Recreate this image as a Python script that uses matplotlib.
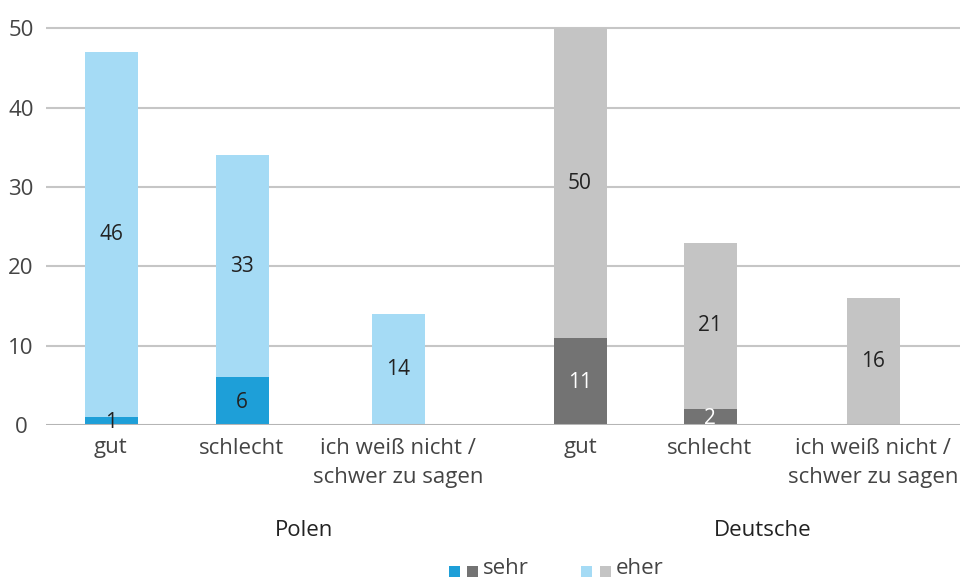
import matplotlib
matplotlib.use('Agg')
import matplotlib.pyplot as plt
from matplotlib.patches import Rectangle

# ---- data ----
categories = ['gut', 'schlecht', 'ich weiß nicht /\nschwer zu sagen',
              'gut', 'schlecht', 'ich weiß nicht /\nschwer zu sagen']
groups = ['Polen', 'Deutsche']
sehr = [1, 6, 0, 11, 2, 0]
eher = [46, 28, 14, 50, 21, 16]
sehr_labels = [1, 6, None, 11, 2, None]
eher_labels = [46, 33, 14, 50, 21, 16]
yticks = [0, 10, 20, 30, 40, 50]
legend_labels = ['sehr', 'eher']

# ---- layout / style ----
W, H = 960, 580
xpos = [111, 242, 398, 580, 710, 873]
bar_w = 53
sehr_colors = ['#1e9fd8'] * 3 + ['#737373'] * 3
eher_colors = ['#a5dbf5'] * 3 + ['#c4c4c4'] * 3
sehr_text = ['#222222'] * 3 + ['#ffffff'] * 3
FONT = 'Open Sans'
YMAX = 50
FS = 16

plt.rcParams['font.family'] = [FONT, 'DejaVu Sans']

fig = plt.figure(figsize=(W / 100, H / 100), dpi=100)
ax = fig.add_axes([46 / W, 1 - 425 / H, 1 - 46 / W, (425 - 26) / H])
ax.set_xlim(46, 960)
ax.set_ylim(0, YMAX + 0.3)

for s in ax.spines.values():
    s.set_visible(False)

for t in yticks[1:]:
    ax.axhline(t, color='#c6c6c6', lw=1.5, zorder=1)
ax.axhline(0, color='#b5b5b5', lw=2.2, zorder=4)

for i, x in enumerate(xpos):
    s = sehr[i]
    top = min(s + eher[i], YMAX)
    vis = top - s
    if s > 0:
        ax.bar(x, s, width=bar_w, color=sehr_colors[i], zorder=2, linewidth=0)
    ax.bar(x, vis, bottom=s, width=bar_w, color=eher_colors[i], zorder=2, linewidth=0)
    if sehr_labels[i] is not None:
        ax.text(x, s / 2 - 0.2, str(sehr_labels[i]), ha='center', va='center',
                fontsize=15, color=sehr_text[i], zorder=5, fontweight='medium')
    ax.text(x, s + vis / 2, str(eher_labels[i]), ha='center', va='center',
            fontsize=15, color='#222222', zorder=5, fontweight='medium')

ax.set_yticks(yticks)
ax.set_yticklabels([str(t) for t in yticks], ha='center')
ax.tick_params(axis='y', length=0, pad=18, labelsize=FS, labelcolor='#444444')
ax.set_xticks(xpos)
ax.set_xticklabels(categories, linespacing=1.5)
ax.tick_params(axis='x', length=0, pad=9, labelsize=FS, labelcolor='#444444')

# group labels
fig.text(304 / W, 1 - 531 / H, groups[0], ha='center', va='center', fontsize=FS, color='#222222')
fig.text(763 / W, 1 - 531 / H, groups[1], ha='center', va='center', fontsize=FS, color='#222222')

# legend (manual)
sq = 11
def square(x, y, c):
    fig.add_artist(Rectangle((x / W, 1 - (y + sq) / H), sq / W, sq / H,
                             transform=fig.transFigure, color=c, lw=0))
square(449, 566, sehr_colors[0])
square(467, 566, sehr_colors[3])
fig.text(483 / W, 1 - 568 / H, legend_labels[0], ha='left', va='center', fontsize=FS, color='#444444')
square(581, 566, eher_colors[0])
square(600, 566, eher_colors[3])
fig.text(616 / W, 1 - 568 / H, legend_labels[1], ha='left', va='center', fontsize=FS, color='#444444')

fig.savefig('out.png', dpi=100)
